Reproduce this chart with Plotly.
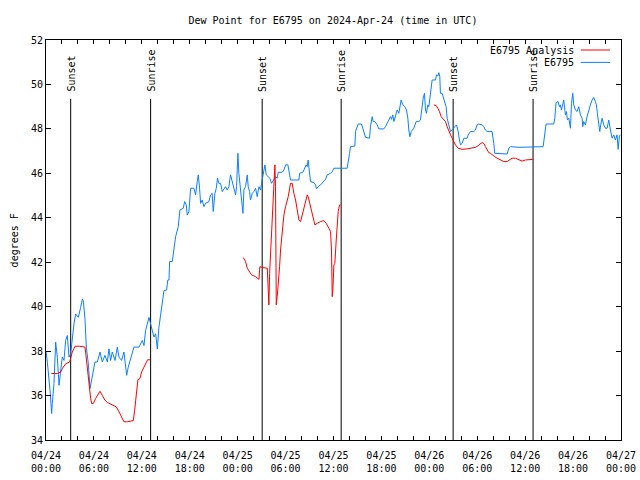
import pandas as pd
import plotly.graph_objects as go

BASE = pd.Timestamp("2024-04-24 00:00")

# E6795 observations: hours since 2024-04-24 00:00 UTC, dew point (F)
obs_hours = [0.00, 0.17, 0.50, 0.71, 0.79, 1.00, 1.21, 1.42, 1.63, 1.84, 2.04, 2.25, 2.46, 2.67, 2.88,
             3.09, 3.29, 3.50, 3.71, 4.05, 4.34, 4.55, 4.67, 4.88, 5.05, 5.30, 5.51, 5.72, 5.92, 6.13,
             6.43, 6.76, 7.05, 7.38, 7.68, 7.88, 8.09, 8.30, 8.64, 8.93, 9.14, 9.47, 9.76, 9.97, 10.10,
             10.30, 10.60, 11.01, 11.64, 11.85, 12.06, 12.27, 12.47, 12.68, 12.89, 13.10, 13.31, 13.52,
             13.73, 13.94, 14.14, 14.35, 14.56, 14.77, 15.10, 15.25, 15.40, 15.48, 15.81, 16.02, 16.23,
             16.56, 16.77, 17.19, 17.36, 17.56, 17.69, 17.90, 18.11, 18.52, 18.73, 18.94, 19.07, 19.23,
             19.36, 19.56, 19.77, 19.98, 20.40, 20.61, 20.81, 20.94, 21.15, 21.32, 21.48, 21.65, 21.86,
             22.07, 22.28, 22.48, 22.69, 22.90, 23.11, 23.32, 23.53, 23.74, 23.86, 24.03, 24.15, 24.36,
             24.49, 24.66, 24.78, 24.99, 25.20, 25.32, 25.49, 25.61, 25.82, 26.03, 26.24, 26.45, 26.66,
             26.87, 26.99, 27.20, 27.41, 27.58, 27.78, 28.03, 28.24, 28.74, 28.95, 29.08, 29.58, 29.79,
             30.00, 30.29, 30.50, 30.62, 31.67, 31.75, 32.17, 32.42, 32.58, 32.71, 32.83, 32.91, 33.04,
             33.12, 33.54, 33.75, 33.87, 34.08, 34.38, 34.80, 35.00, 35.21, 35.63, 35.84, 36.05, 37.71,
             37.84, 38.01, 38.13, 38.68, 38.76, 39.09, 39.51, 39.72, 40.01, 40.51, 40.63, 40.84, 40.97,
             41.18, 41.47, 41.68, 42.30, 42.51, 42.72, 42.93, 43.14, 43.26, 43.43, 43.56, 43.76, 43.97,
             44.18, 44.31, 44.47, 44.68, 44.93, 45.14, 45.31, 45.43, 45.56, 45.73, 46.06, 46.35, 46.68,
             46.89, 47.02, 47.23, 47.39, 47.52, 47.64, 47.81, 47.94, 48.06, 48.23, 48.35, 48.77, 48.90,
             49.06, 49.19, 49.31, 49.39, 49.60, 49.81, 49.94, 50.10, 50.23, 50.44, 50.65, 50.86, 50.98,
             51.19, 51.40, 51.61, 51.77, 51.90, 52.11, 52.32, 52.73, 52.86, 53.15, 53.57, 53.77, 53.98,
             54.19, 54.61, 54.82, 55.03, 55.24, 55.86, 56.07, 56.19, 57.74, 57.95, 58.16, 59.20, 62.25,
             62.45, 62.62, 63.58, 63.71, 63.87, 64.12, 64.29, 64.41, 64.54, 64.71, 64.83, 65.04, 65.17,
             65.29, 65.46, 65.67, 65.80, 65.96, 66.08, 66.29, 66.50, 66.71, 66.92, 67.13, 67.21, 67.33,
             67.54, 67.75, 67.96, 68.17, 68.38, 68.58, 68.79, 68.92, 69.04, 69.21, 69.34, 69.46, 69.63,
             69.84, 70.05, 70.26, 70.47, 70.68, 70.89, 71.09, 71.30, 71.51, 71.64, 71.80, 71.93]
obs_values = [38.00, 37.50, 36.24, 35.19, 35.64, 36.54, 38.40, 37.73, 36.46, 37.13, 37.73, 37.58, 38.48, 38.70, 37.73,
              37.88, 38.63, 39.22, 39.67, 39.52, 39.97, 40.34, 40.27, 39.45, 38.18, 37.43, 36.31, 36.69, 37.13, 37.51,
              37.51, 37.96, 37.51, 37.81, 37.51, 38.10, 37.58, 37.96, 37.58, 38.18, 37.73, 37.58, 37.96, 37.21, 36.91,
              37.28, 37.66, 38.18, 38.18, 38.33, 38.48, 38.25, 38.93, 39.22, 39.52, 39.22, 38.85, 38.63,
              38.78, 38.10, 39.07, 39.67, 40.27, 40.72, 40.75, 41.20, 41.20, 42.03, 42.03, 42.55, 43.15,
              43.60, 44.35, 44.43, 44.73, 44.58, 44.13, 44.28, 45.33, 45.33, 45.03, 45.63, 45.93, 45.33,
              44.65, 44.80, 44.50, 44.65, 44.73, 45.03, 45.10, 44.28, 45.10, 45.33, 45.78, 45.55, 45.55,
              45.18, 45.33, 45.40, 45.25, 45.40, 45.93, 45.63, 45.33, 45.03, 45.40, 46.90, 46.00, 45.33,
              44.88, 44.20, 45.25, 45.40, 45.93, 45.40, 45.18, 44.80, 45.10, 45.18, 45.33, 44.95, 45.40,
              45.25, 45.55, 46.08, 46.38, 45.93, 45.85, 45.78, 45.55, 45.85, 45.78, 46.05, 46.05, 46.15,
              46.38, 46.38, 45.93, 45.70, 45.70, 46.00, 46.05, 46.23, 46.38, 46.30, 46.60, 46.30, 45.85,
              45.63, 45.58, 45.48, 45.30, 45.40, 45.48, 45.63, 45.73, 45.93, 46.00, 46.08, 46.23, 46.23,
              46.45, 46.90, 47.20, 47.23, 47.88, 48.22, 48.22, 47.95, 47.62, 47.58, 48.10, 48.55, 48.33,
              48.33, 48.18, 48.00, 48.00, 48.10, 48.25, 48.33, 48.55, 48.43, 48.63, 48.33, 48.55, 48.85,
              48.70, 48.93, 49.30, 49.08, 49.00, 48.85, 48.48, 47.95, 47.65, 47.88, 48.03, 48.33, 48.33,
              48.40, 48.85, 49.38, 49.60, 48.85, 48.70, 49.08, 49.00, 49.30, 49.90, 50.20, 50.20, 50.43,
              50.38, 50.53, 50.35, 49.60, 49.60, 49.38, 49.23, 49.00, 48.48, 48.10, 47.88, 47.95, 48.03,
              48.10, 48.18, 47.88, 47.50, 47.28, 47.35, 47.58, 47.58, 47.73, 47.88, 47.88, 47.95, 48.18,
              48.22, 48.18, 48.10, 47.95, 47.88, 47.88, 47.35, 46.90, 46.87, 47.13, 47.20, 47.17, 47.20,
              47.65, 48.22, 48.22, 48.48, 49.18, 49.23, 49.00, 49.08, 48.85, 49.08, 49.30, 48.63, 48.78,
              48.40, 48.48, 48.03, 49.15, 49.60, 49.08, 48.85, 48.78, 49.00, 48.63, 48.48, 48.10, 48.33,
              48.18, 48.55, 48.85, 49.08, 49.30, 49.42, 49.23, 49.08, 48.70, 48.10, 47.88, 48.18, 48.48,
              48.18, 48.03, 48.03, 48.40, 47.95, 47.58, 47.73, 47.50, 47.73, 47.08, 47.68, 47.73]

# E6795 Analysis (three segments, separated by gaps)
ana_hours = [0.67, 1.42, 1.84, 2.04, 2.46, 2.96, 3.29, 3.63, 4.21, 4.88, 4.96, 5.17, 5.38, 5.59, 5.72,
             5.92, 6.22, 6.55, 6.76, 7.05, 7.38, 7.68, 8.09, 8.51, 8.80, 9.14, 9.47, 9.76, 10.18, 10.93,
             11.10, 11.31, 11.51, 11.76, 11.97, 12.27, 12.47, 12.72, 13.02,
             None,
             24.70, 24.99, 25.20, 25.74, 26.24, 26.66, 26.78, 27.08, 27.71, 27.83, 27.91, 28.00, 28.12,
             28.25, 28.37, 28.45, 28.54, 28.66, 28.74, 28.83, 28.95, 29.08, 29.25, 29.37, 29.50, 29.79,
             30.00, 30.33, 30.62, 30.83, 31.04, 31.25, 31.46, 31.67, 31.88, 32.08, 32.42, 32.71, 32.83,
             33.12, 33.33, 33.67, 33.96, 34.38, 34.80, 35.09, 35.42, 35.63, 35.75, 35.84, 35.92, 36.05,
             36.17, 36.34, 36.59, 36.76, 36.88,
             None,
             48.56, 48.85, 49.06, 49.27, 49.48, 49.81, 50.02, 50.23, 50.44, 50.65, 50.86, 50.98, 51.27,
             51.61, 52.11, 52.73, 53.36, 53.77, 54.07, 54.19, 54.61, 54.82, 55.03, 55.24, 55.44, 55.65,
             55.86, 56.19, 56.49, 56.90, 57.32, 57.74, 58.03, 58.36, 58.78, 59.20, 59.61, 60.03, 60.45,
             60.99]
ana_values = [36.99, 36.99, 37.06, 37.21, 37.43, 37.51, 37.96, 38.22, 38.22, 38.18, 37.96, 37.21, 36.69, 35.87, 35.64,
              35.64, 35.87, 36.09, 36.19, 36.01, 35.79, 35.69, 35.61, 35.52, 35.49, 35.27, 35.04, 34.82, 34.82, 34.87,
              35.34, 35.94, 36.72, 36.76, 37.06, 37.28, 37.43, 37.61, 37.61,
              None,
              42.21, 42.03, 41.73, 41.43, 41.35, 41.23, 41.80, 41.76, 41.73, 40.60, 40.08, 41.50, 42.40,
              43.30, 44.20, 45.40, 45.85, 46.38, 45.40, 40.08, 40.45, 40.98, 41.80, 42.55, 43.15, 44.13,
              44.50, 44.95, 45.55, 45.55, 45.10, 44.80, 44.35, 43.90, 43.83, 44.13, 44.65, 45.03, 44.95,
              44.50, 44.13, 43.68, 43.75, 43.83, 43.87, 43.75, 43.53, 43.38, 42.55, 40.45, 40.75, 41.88,
              41.95, 43.00, 44.28, 44.58, 44.58,
              None,
              49.08, 49.05, 48.93, 48.78, 48.55, 48.43, 48.33, 48.10, 47.88, 47.73, 47.58, 47.50, 47.28,
              47.13, 47.08, 47.10, 47.13, 47.17, 47.23, 47.28, 47.38, 47.35, 47.20, 47.08, 46.93, 46.90,
              46.83, 46.75, 46.68, 46.60, 46.53, 46.53, 46.60, 46.68, 46.68, 46.63, 46.55, 46.60, 46.60,
              46.63]

# Sun events (hours since 2024-04-24 00:00 UTC)
sun_hours = [3.09, 13.10, 27.07, 36.96, 50.98, 60.99]
sun_labels = ["Sunset", "Sunrise", "Sunset", "Sunrise", "Sunset", "Sunrise"]
sun_line_top = 49.35

x_tick_hours = list(range(0, 73, 6))
y_ticks = list(range(34, 53, 2))


def to_time(hours):
    return [None if h is None else BASE + pd.Timedelta(hours=h) for h in hours]


FONT = "DejaVu Sans Mono"
BLUE = "#0a80ff"
RED = "#ff0000"

fig = go.Figure()

# sunrise / sunset lines
sx, sy = [], []
for h in sun_hours:
    t = BASE + pd.Timedelta(hours=h)
    sx += [t, t, None]
    sy += [34, sun_line_top, None]
fig.add_trace(go.Scatter(x=sx, y=sy, mode="lines", line=dict(color="black", width=1),
                         hoverinfo="skip", showlegend=False))

fig.add_trace(go.Scatter(x=to_time(obs_hours), y=obs_values, mode="lines", name="E6795",
                         line=dict(color=BLUE, width=1), showlegend=False))
fig.add_trace(go.Scatter(x=to_time(ana_hours), y=ana_values, mode="lines", name="E6795 Analysis",
                         line=dict(color=RED, width=1), connectgaps=False, showlegend=False))

annotations = []
for h, lab in zip(sun_hours, sun_labels):
    annotations.append(dict(x=BASE + pd.Timedelta(hours=h), y=sun_line_top, xref="x", yref="y",
                            text=lab, textangle=-90, showarrow=False, xanchor="center",
                            yanchor="bottom", yshift=5, xshift=1,
                            font=dict(family=FONT, size=10, color="black")))

# legend (gnuplot style: text then sample line)
leg_items = [("E6795 Analysis", RED, 0.975), ("E6795", BLUE, 0.944)]
shapes = []
for txt, col, yy in leg_items:
    annotations.append(dict(x=0.922, y=yy, xref="paper", yref="paper", text=txt, showarrow=False,
                            xanchor="right", yanchor="middle",
                            font=dict(family=FONT, size=10, color="black")))
    shapes.append(dict(type="line", xref="paper", yref="paper", x0=0.930, x1=0.981, y0=yy, y1=yy,
                       line=dict(color=col, width=1)))

annotations.append(dict(x=-0.055, y=0.5, xref="paper", yref="paper", text="degrees F", textangle=-90,
                        showarrow=False, xanchor="center", yanchor="middle",
                        font=dict(family=FONT, size=10, color="black")))

fig.update_layout(
    width=640, height=480,
    margin=dict(l=46, r=19, t=40, b=40, autoexpand=False),
    paper_bgcolor="white", plot_bgcolor="white",
    title=dict(text="Dew Point for E6795 on 2024-Apr-24 (time in UTC)", xref="paper", x=0.499,
               xanchor="center", yref="container", y=1 - 20 / 480, yanchor="middle",
               font=dict(family=FONT, size=10, color="black")),
    font=dict(family=FONT, size=10, color="black"),
    annotations=annotations,
    shapes=shapes,
    showlegend=False,
)

fig.update_xaxes(
    range=[BASE, BASE + pd.Timedelta(hours=72)],
    tickvals=[BASE + pd.Timedelta(hours=h) for h in x_tick_hours],
    tickformat="%m/%d<br>%H:%M",
    ticks="inside", ticklen=4, tickcolor="black",
    minor=dict(dtick=2 * 3600 * 1000, ticks="inside", ticklen=4, tickcolor="black"),
    showline=True, linecolor="black", linewidth=1, mirror="allticks",
    showgrid=False, zeroline=False, automargin=False, ticklabelstandoff=6,
    tickfont=dict(family=FONT, size=10, color="black"),
)
fig.update_yaxes(
    range=[34, 52], tickvals=y_ticks,
    ticks="inside", ticklen=5, tickcolor="black",
    showline=True, linecolor="black", linewidth=1, mirror="allticks",
    showgrid=False, zeroline=False, automargin=False,
    tickfont=dict(family=FONT, size=10, color="black"),
)

fig.write_html("out.html", config={"displayModeBar": False},
               post_script="document.body.style.margin='0px';")
